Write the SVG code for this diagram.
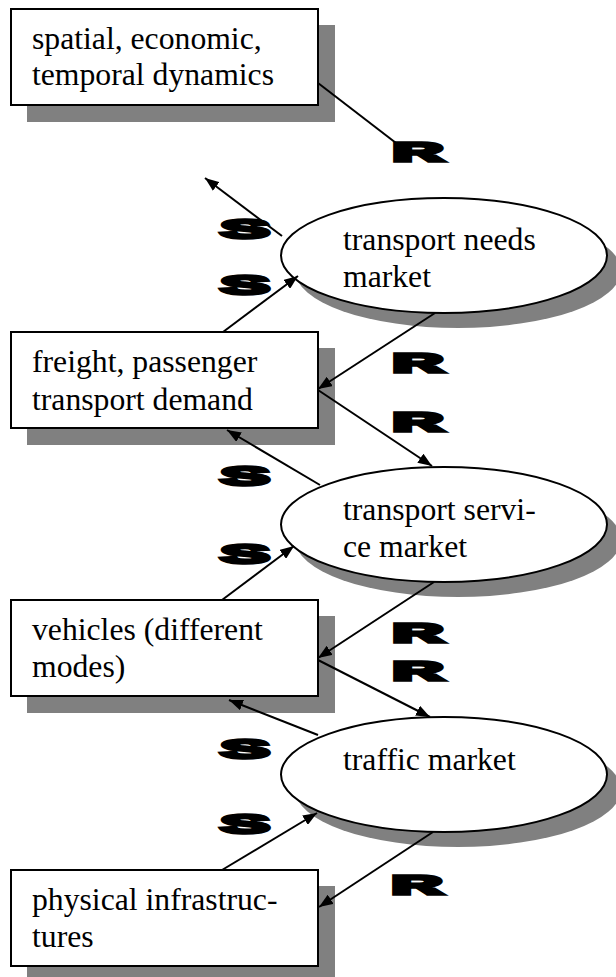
<svg xmlns="http://www.w3.org/2000/svg" width="616" height="977" viewBox="0 0 616 977">
  <style>
    .box { fill: #fff; stroke: #000; stroke-width: 2; }
    .ell { fill: #fff; stroke: #000; stroke-width: 2; }
    .shadow { fill: #808080; stroke: none; }
    .conn { stroke: #000; stroke-width: 2; fill: none; }
    .arr { marker-end: url(#ah); }
  </style>
  <defs>
    <marker id="ah" viewBox="0 0 14 11" refX="14" refY="5.5" markerWidth="14" markerHeight="11" orient="auto" markerUnits="userSpaceOnUse">
      <path d="M0,0 L14,5.5 L0,11 z" fill="#000"/>
    </marker>
  </defs>

  <!-- rectangular nodes -->
  <g id="dynamics">
    <rect class="shadow" x="27" y="25" width="308" height="97"/>
    <rect class="box" x="11" y="9" width="307" height="96"/>
    <text x="32" y="49" font-family="Liberation Serif" style="font-family:'Liberation Serif',serif;font-size:31.7px">spatial, economic,</text>
    <text x="32" y="85" font-family="Liberation Serif" style="font-family:'Liberation Serif',serif;font-size:31.7px">temporal dynamics</text>
  </g>
  <g id="demand">
    <rect class="shadow" x="27" y="348" width="308" height="97"/>
    <rect class="box" x="11" y="332" width="307" height="96"/>
    <text x="32" y="372" font-family="Liberation Serif" style="font-family:'Liberation Serif',serif;font-size:31.7px">freight, passenger</text>
    <text x="32" y="410" font-family="Liberation Serif" style="font-family:'Liberation Serif',serif;font-size:31.7px">transport demand</text>
  </g>
  <g id="vehicles">
    <rect class="shadow" x="27" y="616" width="308" height="97"/>
    <rect class="box" x="11" y="600" width="307" height="96"/>
    <text x="32" y="640" font-family="Liberation Serif" style="font-family:'Liberation Serif',serif;font-size:31.7px">vehicles (different</text>
    <text x="32" y="677" font-family="Liberation Serif" style="font-family:'Liberation Serif',serif;font-size:31.7px">modes)</text>
  </g>
  <g id="infrastructure">
    <rect class="shadow" x="27" y="886" width="308" height="97"/>
    <rect class="box" x="11" y="870" width="307" height="96"/>
    <text x="32" y="910" font-family="Liberation Serif" style="font-family:'Liberation Serif',serif;font-size:31.7px">physical infrastruc-</text>
    <text x="32" y="947" font-family="Liberation Serif" style="font-family:'Liberation Serif',serif;font-size:31.7px">tures</text>
  </g>

  <!-- market nodes -->
  <g id="needs-market">
    <ellipse class="shadow" cx="458" cy="270.5" rx="163" ry="57.5"/>
    <ellipse class="ell" cx="444" cy="255.5" rx="163" ry="57.5"/>
    <text x="343" y="250" font-family="Liberation Serif" style="font-family:'Liberation Serif',serif;font-size:31.7px">transport needs</text>
    <text x="343" y="287" font-family="Liberation Serif" style="font-family:'Liberation Serif',serif;font-size:31.7px">market</text>
  </g>
  <g id="service-market">
    <ellipse class="shadow" cx="458" cy="539.5" rx="163" ry="57.5"/>
    <ellipse class="ell" cx="444" cy="524.5" rx="163" ry="57.5"/>
    <text x="343" y="520" font-family="Liberation Serif" style="font-family:'Liberation Serif',serif;font-size:31.7px">transport servi-</text>
    <text x="343" y="557" font-family="Liberation Serif" style="font-family:'Liberation Serif',serif;font-size:31.7px">ce market</text>
  </g>
  <g id="traffic-market">
    <ellipse class="shadow" cx="458" cy="789.5" rx="163" ry="57.5"/>
    <ellipse class="ell" cx="444" cy="774.5" rx="163" ry="57.5"/>
    <text x="343" y="770" font-family="Liberation Serif" style="font-family:'Liberation Serif',serif;font-size:31.7px">traffic market</text>
  </g>

  <!-- connectors -->
  <g id="connectors">
    <line class="conn" x1="318" y1="83" x2="396" y2="143"/>
    <line class="conn arr" x1="282" y1="236" x2="205" y2="178"/>
    <line class="conn arr" x1="223" y1="332" x2="298" y2="276"/>
    <line class="conn arr" x1="435" y1="313" x2="318" y2="389"/>
    <line class="conn arr" x1="318" y1="390" x2="432" y2="466"/>
    <line class="conn arr" x1="320" y1="485" x2="227" y2="430"/>
    <line class="conn arr" x1="222" y1="600" x2="294" y2="546"/>
    <line class="conn arr" x1="434" y1="582" x2="318" y2="658"/>
    <line class="conn arr" x1="318" y1="660" x2="430" y2="717"/>
    <line class="conn arr" x1="318" y1="735" x2="229" y2="700"/>
    <line class="conn arr" x1="222" y1="870" x2="317" y2="813"/>
    <line class="conn arr" x1="433" y1="832" x2="319" y2="907"/>
  </g>

  <!-- relation labels -->
  <g id="labels" style="font-family:'Liberation Sans',sans-serif;font-weight:bold;font-size:26px;fill:#000;stroke:#000;stroke-width:3.4">
    <text x="393" y="161" textLength="50" lengthAdjust="spacingAndGlyphs">R</text>
    <text x="221" y="238" textLength="48" lengthAdjust="spacingAndGlyphs">S</text>
    <text x="221" y="294" textLength="48" lengthAdjust="spacingAndGlyphs">S</text>
    <text x="393" y="372" textLength="50" lengthAdjust="spacingAndGlyphs">R</text>
    <text x="393" y="431" textLength="50" lengthAdjust="spacingAndGlyphs">R</text>
    <text x="221" y="485" textLength="48" lengthAdjust="spacingAndGlyphs">S</text>
    <text x="221" y="563" textLength="48" lengthAdjust="spacingAndGlyphs">S</text>
    <text x="393" y="642" textLength="50" lengthAdjust="spacingAndGlyphs">R</text>
    <text x="393" y="680" textLength="50" lengthAdjust="spacingAndGlyphs">R</text>
    <text x="221" y="758" textLength="48" lengthAdjust="spacingAndGlyphs">S</text>
    <text x="221" y="833" textLength="48" lengthAdjust="spacingAndGlyphs">S</text>
    <text x="392" y="894" textLength="50" lengthAdjust="spacingAndGlyphs">R</text>
  </g>
</svg>
